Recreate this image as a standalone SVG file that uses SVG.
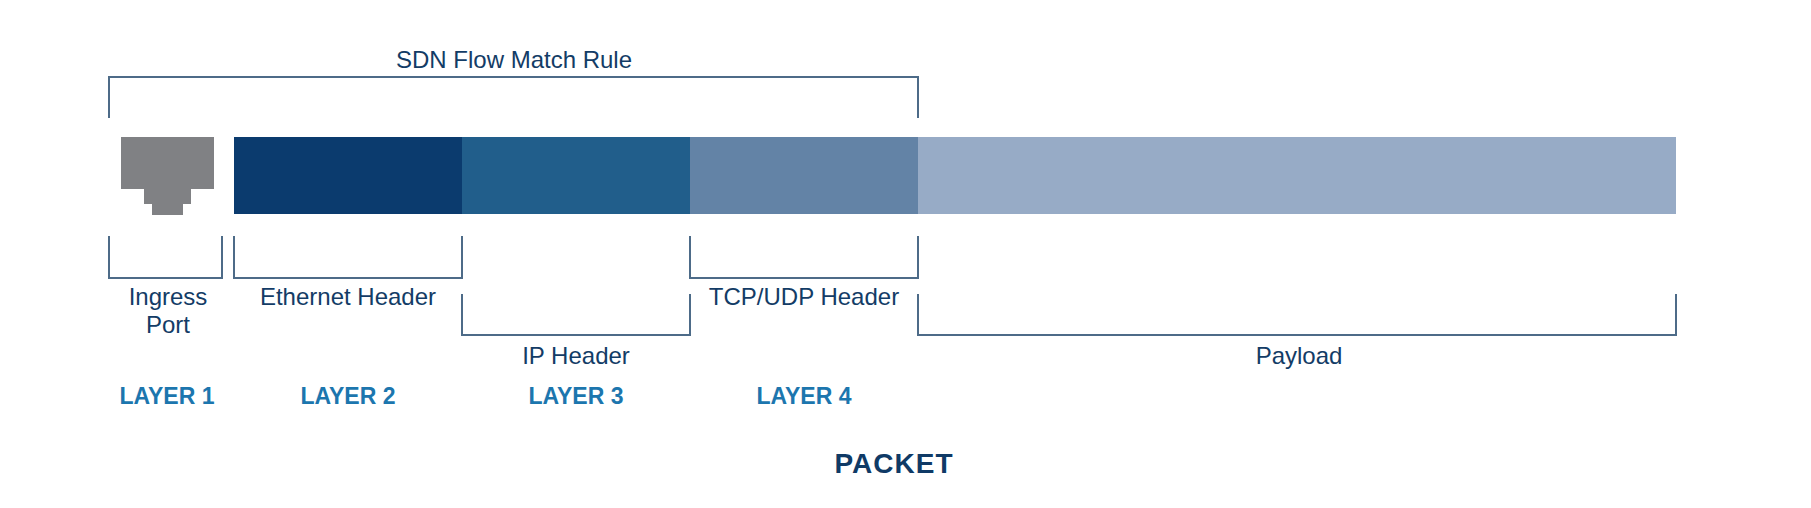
<svg xmlns="http://www.w3.org/2000/svg" width="1811" height="508" viewBox="0 0 1811 508">
<style>
.lbl{font-family:"Liberation Sans",Arial,sans-serif;font-size:24px;fill:#133c66;text-anchor:middle}
.lay{font-family:"Liberation Sans",Arial,sans-serif;font-size:23px;font-weight:bold;fill:#1c76ae;text-anchor:middle}
.ttl{font-family:"Liberation Sans",Arial,sans-serif;font-size:28px;font-weight:bold;fill:#0f3a66;text-anchor:middle;letter-spacing:1px}
.br{fill:none;stroke:#4d6b88;stroke-width:2}
</style>
<rect width="1811" height="508" fill="#ffffff"/>
<g id="ingress-port-icon">
<path d="M121 137H214V189H191V204H183V215H152V204H144V189H121Z" fill="#808184"/>
</g>
<g id="ethernet-segment"><rect x="234" y="137" width="228" height="77" fill="#0b3b6e"/></g>
<g id="ip-segment"><rect x="462" y="137" width="228" height="77" fill="#215e8b"/></g>
<g id="tcp-segment"><rect x="690" y="137" width="228" height="77" fill="#6383a6"/></g>
<g id="payload-segment"><rect x="918" y="137" width="758" height="77" fill="#97abc6"/></g>
<g id="connectors">
<path class="br" d="M109 118V77H918V118"/>
<path class="br" d="M109 236V278H222V236"/>
<path class="br" d="M234 236V278H462V236"/>
<path class="br" d="M462 294V335H690V294"/>
<path class="br" d="M690 236V278H918V236"/>
<path class="br" d="M918 294V335H1676V294"/>
</g>
<g id="labels">
<text class="lbl" x="514" y="68">SDN Flow Match Rule</text>
<text class="lbl" x="168" y="305">Ingress</text>
<text class="lbl" x="168" y="333">Port</text>
<text class="lbl" x="348" y="305">Ethernet Header</text>
<text class="lbl" x="804" y="305">TCP/UDP Header</text>
<text class="lbl" x="576" y="364">IP Header</text>
<text class="lbl" x="1299" y="364">Payload</text>
<text class="lay" x="167" y="404">LAYER 1</text>
<text class="lay" x="348" y="404">LAYER 2</text>
<text class="lay" x="576" y="404">LAYER 3</text>
<text class="lay" x="804" y="404">LAYER 4</text>
<text class="ttl" x="894" y="473">PACKET</text>
</g>
</svg>
